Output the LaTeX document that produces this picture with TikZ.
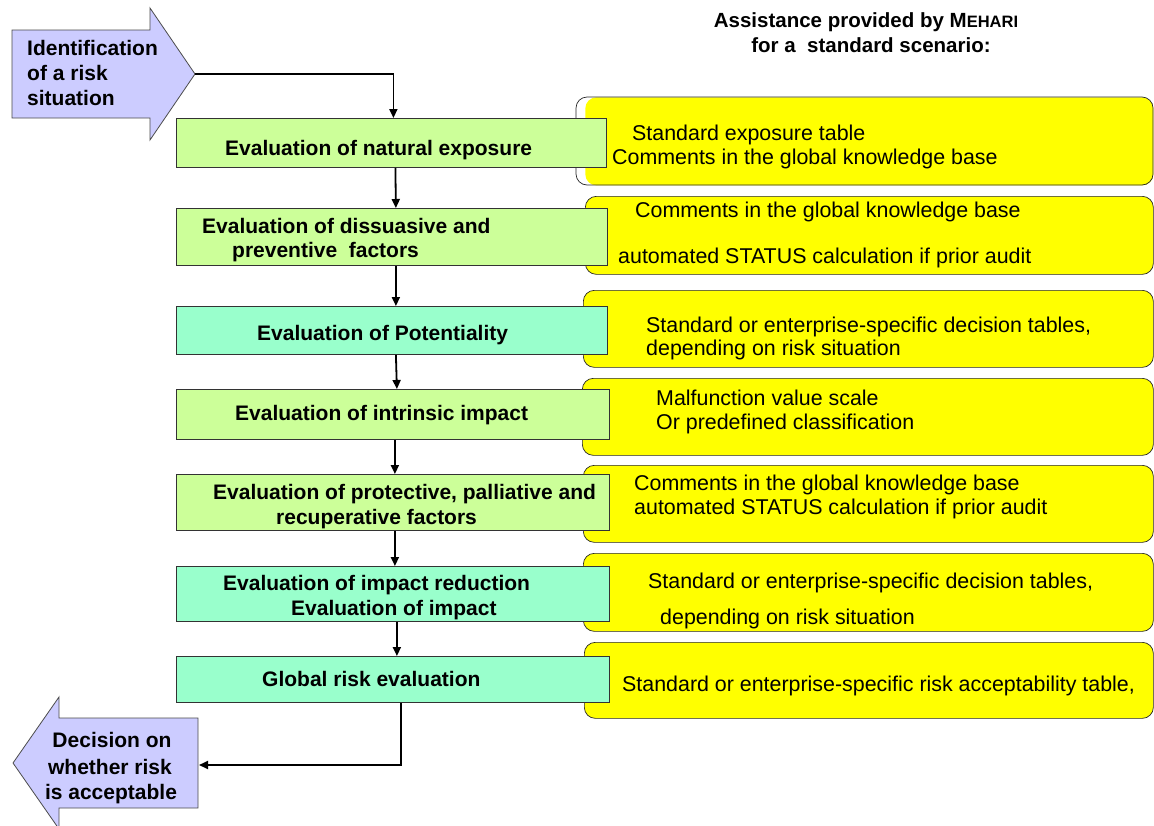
\documentclass[tikz,border=0pt]{standalone}
\usepackage{fontspec}
\setmainfont{Liberation Sans}
\usetikzlibrary{arrows.meta}
\definecolor{lgreen}{HTML}{CCFF99}
\definecolor{aqua}{HTML}{99FFCC}
\definecolor{lavender}{HTML}{CCCCFF}
\definecolor{ylw}{HTML}{FFFF00}
\tikzset{
  gbox/.style={draw=black!80, line width=0.8pt, inner sep=0pt, anchor=north west},
  ybox/.style={fill=ylw, draw=black!85, line width=0.7pt, rounded corners=11pt, inner sep=0pt, anchor=north west},
  conn/.style={line width=1.8pt, -{Triangle[length=9pt,width=8pt]}},
  btxt/.style={font=\bfseries\fontsize{21}{25}\selectfont, inner sep=0pt, anchor=base west},
  ctxt/.style={font=\bfseries\fontsize{21}{25}\selectfont, inner sep=0pt, anchor=base},
  rtxt/.style={font=\fontsize{21.4}{25}\selectfont, inner sep=0pt, anchor=base west},
  ttxt/.style={font=\bfseries\fontsize{20.5}{25}\selectfont, inner sep=0pt, anchor=base},
  bigarrow/.style={fill=lavender, draw=black!70, line width=0.8pt}
}
\begin{document}
\begin{tikzpicture}[x=1pt,y=-1pt]
\useasboundingbox (0,0) rectangle (1154,825);
\clip (0,0) rectangle (1154,825);
\fill[white] (0,0) rectangle (1154,825);

% title
\node[ttxt] (title1) at (866,27) {Assistance provided by M{\fontsize{16.5}{20}\selectfont EHARI}};
\node[ttxt] (title2) at (871,52) {for a\ \ standard scenario:};

% yellow assistance boxes
\node[ybox, draw=none, minimum width=568pt, minimum height=88pt] (y1) at (585,97) {};
\draw[black!85, line width=0.7pt, rounded corners=11pt] (576,97) rectangle (1153,185);
\node[ybox, minimum width=568pt, minimum height=78pt] (y2) at (585,196) {};
\node[ybox, minimum width=570pt, minimum height=77pt] (y3) at (583,290) {};
\node[ybox, minimum width=571pt, minimum height=77pt] (y4) at (582,378) {};
\node[ybox, minimum width=570pt, minimum height=77pt] (y5) at (583,465) {};
\node[ybox, minimum width=570pt, minimum height=78pt] (y6) at (583,553) {};
\node[ybox, minimum width=569pt, minimum height=76pt] (y7) at (584,642) {};

\node[rtxt] (y1a) at (632,140) {Standard exposure table};
\node[rtxt] (y1b) at (612,164) {Comments in the global knowledge base};
\node[rtxt] (y2a) at (635,217) {Comments in the global knowledge base};
\node[rtxt] (y2b) at (618,263) {automated STATUS calculation if prior audit};
\node[rtxt] (y3a) at (646,332) {Standard or enterprise-specific decision tables,};
\node[rtxt] (y3b) at (646,355) {depending on risk situation};
\node[rtxt] (y4a) at (656,405) {Malfunction value scale};
\node[rtxt] (y4b) at (656,429) {Or predefined classification};
\node[rtxt] (y5a) at (634,490) {Comments in the global knowledge base};
\node[rtxt] (y5b) at (634,514) {automated STATUS calculation if prior audit};
\node[rtxt] (y6a) at (648,588) {Standard or enterprise-specific decision tables,};
\node[rtxt] (y6b) at (660,624) {depending on risk situation};
\node[rtxt] (y7a) at (622,691) {Standard or enterprise-specific risk acceptability table,};

% green step boxes
\node[gbox, fill=lgreen, minimum width=430pt, minimum height=49pt] (b1) at (176,118) {};
\node[gbox, fill=lgreen, minimum width=431pt, minimum height=57pt] (b2) at (176,208) {};
\node[gbox, fill=aqua,   minimum width=431pt, minimum height=48pt] (b3) at (176,306) {};
\node[gbox, fill=lgreen, minimum width=433pt, minimum height=50pt] (b4) at (176,389) {};
\node[gbox, fill=lgreen, minimum width=433pt, minimum height=56pt] (b5) at (176,474) {};
\node[gbox, fill=aqua,   minimum width=433pt, minimum height=55pt] (b6) at (176,566) {};
\node[gbox, fill=aqua,   minimum width=433pt, minimum height=46pt] (b7) at (176,656) {};

\node[btxt] (b1t) at (225,155) {Evaluation of natural exposure};
\node[btxt] (b2a) at (202,233) {Evaluation of dissuasive and};
\node[btxt] (b2b) at (232,257) {preventive\ \ factors};
\node[btxt] (b3t) at (257,340) {Evaluation of Potentiality};
\node[btxt] (b4t) at (235,420) {Evaluation of intrinsic impact};
\node[btxt] (b5a) at (213,499) {Evaluation of protective, palliative and};
\node[btxt] (b5b) at (276,524) {recuperative factors};
\node[btxt] (b6a) at (223,590) {Evaluation of impact reduction};
\node[btxt] (b6b) at (291,615) {Evaluation of impact};
\node[btxt] (b7t) at (262,686) {Global risk evaluation};

% entry arrow
\draw[bigarrow] (12,30) -- (150,30) -- (150,8) -- (195,74) -- (150,140) -- (150,118) -- (12,118) -- cycle;
\coordinate (tip1) at (195,74);
\node[btxt] (in1) at (27,55) {Identification};
\node[btxt] (in2) at (27,80) {of a risk};
\node[btxt] (in3) at (27,105) {situation};

% exit arrow
\draw[bigarrow] (198,718) -- (59,718) -- (59,697) -- (13,763) -- (59,829) -- (59,808) -- (198,808) -- cycle;
\coordinate (tip2) at (199,765);
\node[ctxt] (out1) at (112,747) {Decision on};
\node[ctxt] (out2) at (110,774) {whether risk};
\node[ctxt] (out3) at (111,799) {is acceptable};

% connectors
\draw[conn] (tip1) -| ([xshift=2pt]b1.north);
\draw[conn] ([xshift=4pt]b1.south) -- ([xshift=4pt]b2.north);
\draw[conn] ([xshift=4pt]b2.south) -- ([xshift=4pt]b3.north);
\draw[conn] ([xshift=4pt]b3.south) -- ([xshift=4pt]b4.north);
\draw[conn] ([xshift=2pt]b4.south) -- ([xshift=2pt]b5.north);
\draw[conn] ([xshift=2pt]b5.south) -- ([xshift=2pt]b6.north);
\draw[conn] ([xshift=4pt]b6.south) -- ([xshift=4pt]b7.north);
\draw[conn] ([xshift=8pt]b7.south) |- (tip2);
\end{tikzpicture}
\end{document}
